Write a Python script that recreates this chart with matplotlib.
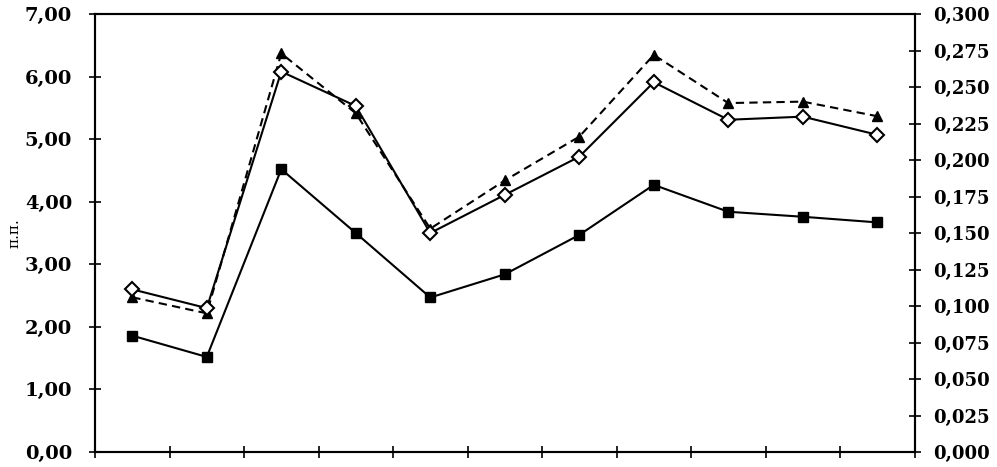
import numpy as np
import matplotlib
matplotlib.use('Agg')
import matplotlib.pyplot as plt
from matplotlib.ticker import FuncFormatter, MultipleLocator

# values (11 periods, no x labels)
squares = [1.86, 1.52, 4.52, 3.50, 2.47, 2.84, 3.47, 4.27, 3.84, 3.76, 3.67]
diamonds = [2.60, 2.30, 6.08, 5.53, 3.50, 4.11, 4.72, 5.91, 5.31, 5.36, 5.07]
# triangle series is read against the right axis
triangles = [0.106, 0.095, 0.273, 0.232, 0.153, 0.186, 0.216, 0.272, 0.239, 0.240, 0.230]

left_max = 7.0
right_max = 0.300

plt.rcParams['font.family'] = ['DejaVu Serif']

fig = plt.figure(figsize=(9.97, 4.67), dpi=100)
ax = fig.add_axes([0.0953, 0.032, 0.822, 0.938])
ax2 = ax.twinx()

x = np.arange(len(squares))

ax2.plot(x, triangles, color='black', linestyle=(0, (4, 2.5)), linewidth=1.5,
         marker='^', markersize=7, markerfacecolor='black', zorder=2)
ax.plot(x, squares, color='black', linewidth=1.5, marker='s', markersize=7,
        markerfacecolor='black', zorder=3)
ax.plot(x, diamonds, color='black', linewidth=1.5, marker='D', markersize=7,
        markerfacecolor='white', markeredgewidth=1.5, zorder=3)

# left axes on top so its lines sit over the dashed series
ax.set_zorder(ax2.get_zorder() + 1)
ax.patch.set_visible(False)

ax.set_xlim(-0.5, len(squares) - 0.5)
ax.set_ylim(0, left_max)
ax2.set_ylim(0, right_max)

comma = lambda fmt: FuncFormatter(lambda v, p: (fmt % v).replace('.', ','))
ax.yaxis.set_major_locator(MultipleLocator(1.0))
ax.yaxis.set_major_formatter(comma('%.2f'))
ax2.yaxis.set_major_locator(MultipleLocator(0.025))
ax2.yaxis.set_major_formatter(comma('%.3f'))

ax.set_xticks(np.arange(-0.5, len(squares) + 0.5, 1.0))
ax.set_xticklabels([])
ax.tick_params(axis='x', direction='inout', length=9, width=1.2)
ax.tick_params(axis='y', direction='inout', length=9, width=1.2, labelsize=14, pad=12)
ax2.tick_params(axis='y', direction='inout', length=9, width=1.2, labelsize=13, pad=9)
for lbl in ax.get_yticklabels() + ax2.get_yticklabels():
    lbl.set_fontweight('bold')

for a in (ax, ax2):
    for s in a.spines.values():
        s.set_linewidth(1.5)

ax.set_ylabel('п.п.', fontsize=11)
ax.yaxis.set_label_coords(-0.09, 0.5)

fig.savefig('out.png', dpi=100)
